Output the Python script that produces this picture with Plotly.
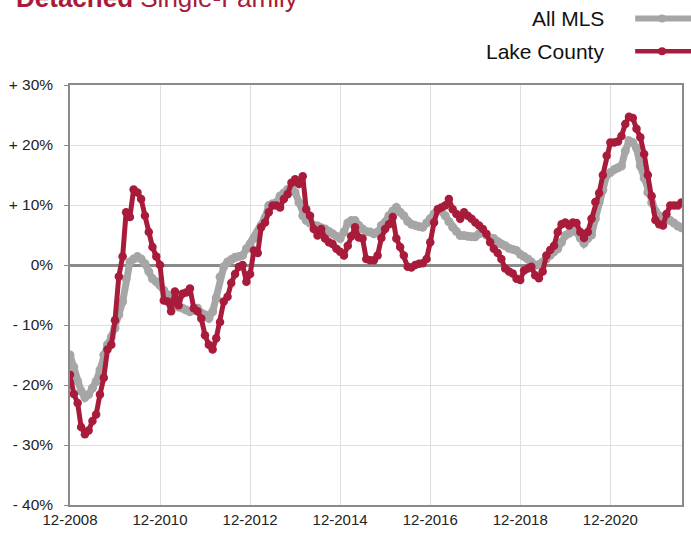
import pandas as pd
import plotly.graph_objects as go

# Monthly year-over-year change (%), 12-2008 onward
lake_county = [
    -18.3, -21.5, -23.0, -27.0, -28.2, -27.6, -26.0, -24.9, -21.6, -18.8,
    -14.1, -13.3, -9.2, -1.9, 1.4, 8.8, 8.0, 12.6, 12.1, 11.0,
    8.2, 5.5, 3.0, 1.4, 0.0, -5.9, -6.1, -7.7, -4.4, -6.7,
    -4.8, -4.6, -3.9, -7.2, -7.7, -8.9, -11.7, -13.3, -14.1, -12.2,
    -9.5, -6.1, -5.3, -3.0, -1.5, -0.3, 0.0, -2.8, -1.5, 2.4,
    2.0, 6.3, 7.1, 8.8, 9.9, 9.9, 9.6, 11.0, 11.8, 13.7,
    14.3, 13.5, 14.8, 9.3, 8.2, 6.0, 4.9, 6.0, 4.4, 3.8,
    3.5, 2.7, 2.2, 1.6, 3.2, 4.8, 6.3, 4.6, 4.4, 1.0,
    0.8, 0.8, 1.6, 4.5, 6.0, 6.8, 8.0, 4.4, 3.0, 1.6,
    -0.3, -0.4, 0.0, 0.2, 0.3, 1.0, 3.8, 7.1, 9.3, 9.6,
    9.9, 11.0, 9.3, 8.5, 7.7, 8.8, 8.2, 7.7, 7.1, 6.6,
    6.0, 5.2, 3.8, 2.7, 2.0, 1.0, -0.6, -1.1, -1.4, -2.3,
    -2.5, -0.9, -0.6, -0.3, -1.7, -2.2, -1.1, 1.6, 2.5, 3.2,
    5.5, 6.8, 7.1, 6.6, 7.1, 7.0, 5.5, 4.5, 5.5, 7.7,
    10.5, 12.0, 15.0, 18.2, 20.4, 20.4, 20.6, 21.5, 23.5, 24.7,
    24.5, 22.7, 21.3, 18.5, 15.0, 11.5, 7.5, 6.8, 6.6, 8.5,
    9.9, 9.9, 9.9, 10.4,
]

all_mls = [
    -15.0, -17.0, -19.4, -21.0, -22.1, -21.6, -20.5, -19.4, -17.5, -15.0,
    -13.3, -12.0, -10.5, -8.3, -6.1, -2.3, 0.5, 1.0, 1.4, 1.0,
    0.2, -1.1, -2.3, -2.8, -3.4, -4.2, -5.0, -6.0, -6.7, -7.0,
    -7.2, -7.5, -7.8, -7.5, -7.2, -8.0, -8.3, -8.9, -7.8, -5.5,
    -2.0, -0.3, 0.5, 0.9, 1.3, 1.4, 1.6, 2.7, 3.5, 4.4,
    5.5, 6.6, 7.9, 9.9, 10.2, 10.4, 11.5, 12.0, 12.6, 12.9,
    12.1, 10.4, 8.2, 7.4, 7.0, 6.6, 6.5, 6.2, 6.0, 5.6,
    5.2, 4.8, 4.4, 5.5, 7.0, 7.4, 7.4, 6.6, 6.0, 5.6,
    5.5, 5.2, 5.5, 6.6, 7.1, 8.2, 9.0, 9.6, 8.8, 8.2,
    7.3, 6.8, 6.6, 6.4, 6.3, 7.0, 7.7, 8.5, 9.3, 9.0,
    8.2, 7.2, 6.3, 5.6, 4.9, 4.9, 4.8, 4.7, 4.7, 5.2,
    5.5, 5.0, 4.5, 4.4, 3.9, 3.5, 3.2, 2.8, 2.6, 2.4,
    1.8, 1.4, 1.0, 0.5, -0.1, 0.1, 0.5, 1.0, 1.6, 2.2,
    2.7, 3.8, 4.9, 5.3, 5.7, 5.5, 4.5, 3.6, 4.4, 5.0,
    7.7, 10.5, 12.5, 15.0, 15.4, 15.9, 16.2, 16.5, 19.0, 20.7,
    20.4, 19.5, 16.5, 14.5, 12.1, 10.4, 9.0, 8.2, 7.6, 7.7,
    7.4, 7.0, 6.5, 6.2,
]

months = pd.date_range(start="2008-12-01", periods=len(lake_county), freq="MS")

x_tick_vals = ["2008-12-01", "2010-12-01", "2012-12-01", "2014-12-01",
               "2016-12-01", "2018-12-01", "2020-12-01"]
x_tick_text = ["12-2008", "12-2010", "12-2012", "12-2014",
               "12-2016", "12-2018", "12-2020"]
y_tick_vals = [30, 20, 10, 0, -10, -20, -30, -40]
y_tick_text = ["+ 30%", "+ 20%", "+ 10%", "0%", "- 10%", "- 20%", "- 30%", "- 40%"]

GRAY = "#a6a6a6"
RED = "#a81b3a"
FONT = "Liberation Sans, Arial, sans-serif"

fig = go.Figure()
fig.add_trace(go.Scatter(
    x=months, y=all_mls, name="All MLS", mode="lines+markers",
    line=dict(color=GRAY, width=7), marker=dict(color=GRAY, size=9),
    showlegend=False,
))
fig.add_trace(go.Scatter(
    x=months, y=lake_county, name="Lake County", mode="lines+markers",
    line=dict(color=RED, width=5), marker=dict(color=RED, size=8.5),
    showlegend=False,
))

L, R, T, B = 70, 7, 85, 27
W, H = 691, 535
pw, ph = W - L - R, H - T - B

def px_x(p):
    return (p - L) / pw

def px_y(p):
    return (H - B - p) / ph

fig.update_layout(
    width=W, height=H,
    margin=dict(l=L, r=R, t=T, b=B),
    paper_bgcolor="white", plot_bgcolor="white",
    font=dict(family=FONT, size=15, color="#222222"),
    xaxis=dict(
        range=["2008-12-01", "2022-07-05"],
        tickvals=x_tick_vals, ticktext=x_tick_text,
        showgrid=True, gridcolor="#dedede", gridwidth=1,
        showline=True, linecolor="#8a8a8a", linewidth=1.5, mirror=True,
        ticks="", zeroline=False,
        tickfont=dict(size=15, color="#222222"),
    ),
    yaxis=dict(
        range=[-40, 30],
        tickvals=y_tick_vals, ticktext=y_tick_text,
        showgrid=True, gridcolor="#dedede", gridwidth=1,
        showline=True, linecolor="#8a8a8a", linewidth=1.5, mirror=True,
        ticks="outside", ticklen=4, tickcolor="#8a8a8a",
        zeroline=True, zerolinecolor="#8a8a8a", zerolinewidth=3,
        tickfont=dict(size=15.5, color="#222222"),
        ticklabelstandoff=8,
    ),
)

# Title (partially above the visible page, as in the reference)
fig.add_annotation(
    xref="paper", yref="paper", x=px_x(14), y=px_y(-3),
    xanchor="left", yanchor="middle", showarrow=False,
    text="<b>Detached</b> Single-Family",
    font=dict(family=FONT, size=26, color=RED),
)

# Custom legend: label on the left, line sample on the right
legend_items = [("All MLS", GRAY, 6, 18), ("Lake County", RED, 4.5, 51)]
for label, color, width, ypix in legend_items:
    fig.add_annotation(
        xref="paper", yref="paper", x=px_x(608), y=px_y(ypix),
        xanchor="right", yanchor="middle", showarrow=False,
        text=label, font=dict(family=FONT, size=21, color="#111111"),
    )
    fig.add_shape(
        type="line", xref="paper", yref="paper",
        x0=px_x(637), x1=px_x(700), y0=px_y(ypix), y1=px_y(ypix),
        line=dict(color=color, width=width),
    )
    fig.add_shape(
        type="circle", xref="paper", yref="paper",
        x0=px_x(660), x1=px_x(668), y0=px_y(ypix + 4), y1=px_y(ypix - 4),
        fillcolor=color, line=dict(color=color, width=0),
    )

fig.write_html(
    "out.html",
    config={"displayModeBar": False},
    post_script="document.body.style.margin='0px';document.body.style.overflow='hidden';",
)
